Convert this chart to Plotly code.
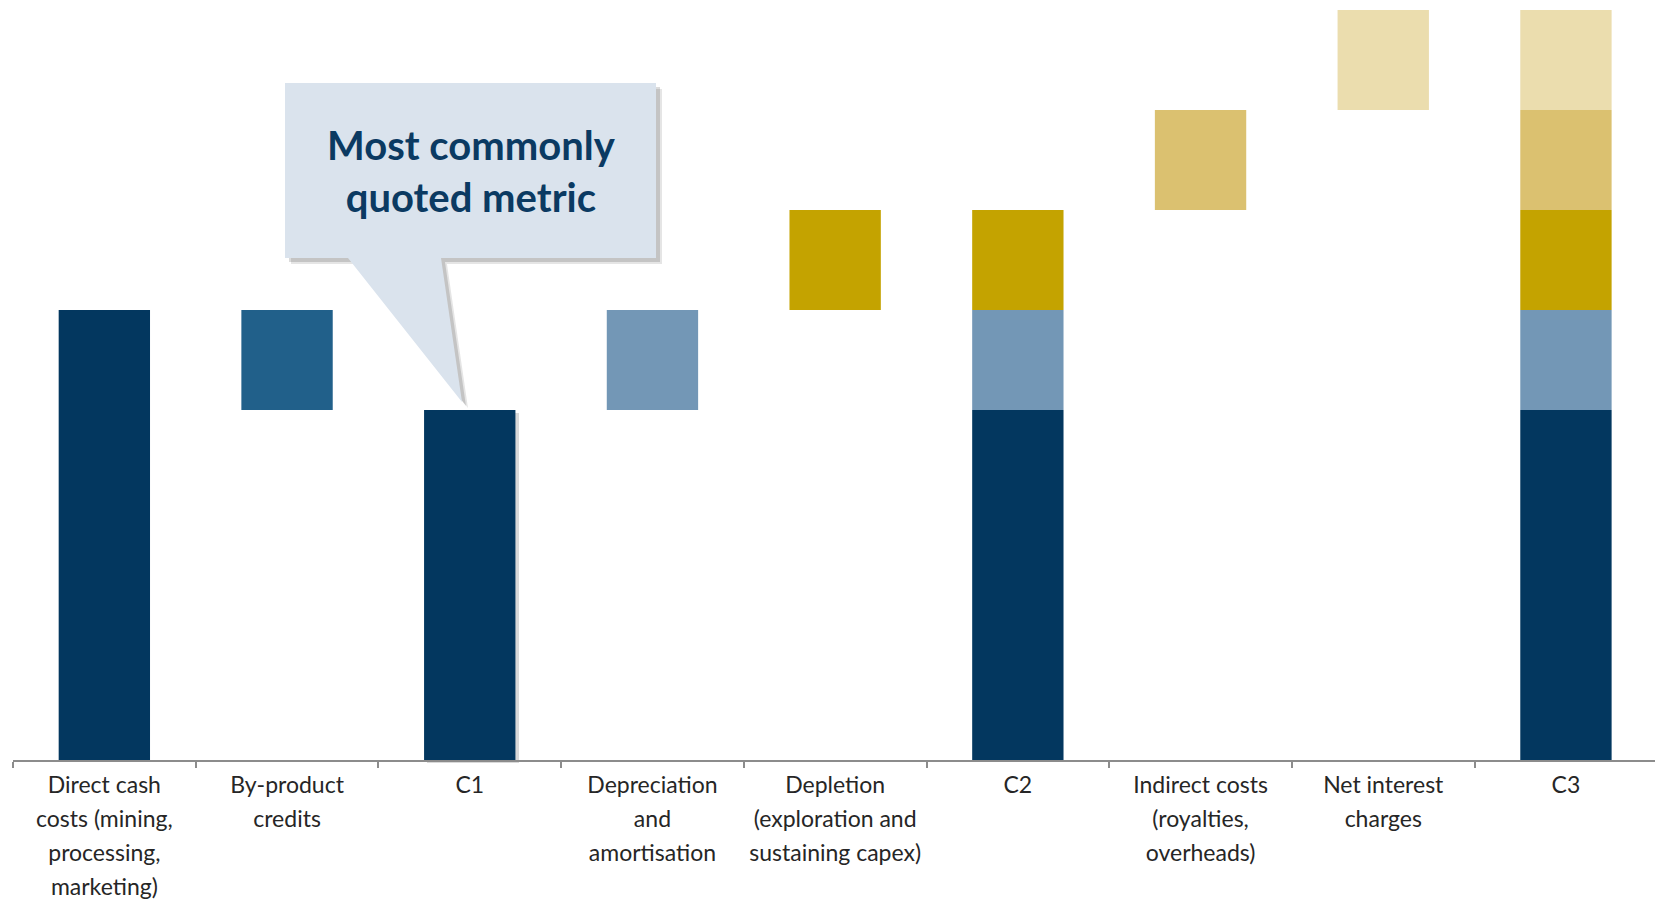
import plotly.graph_objects as go

# ---- data ----
category_lines = [
    ["Direct cash", "costs (mining,", "processing,", "marketing)"],
    ["By-product", "credits"],
    ["C1"],
    ["Depreciation", "and", "amortisation"],
    ["Depletion", "(exploration and", "sustaining capex)"],
    ["C2"],
    ["Indirect costs", "(royalties,", "overheads)"],
    ["Net interest", "charges"],
    ["C3"],
]
direct_cash = 4.5
byproduct_credits = -1.0
depreciation = 1.0
depletion = 1.0
indirect_costs = 1.0
net_interest = 1.0

categories = ["<br>".join(f'<span style="font-size:23px">{s}</span>' for s in lines)
              for lines in category_lines]

c1 = direct_cash + byproduct_credits
c2 = c1 + depreciation + depletion
c3 = c2 + indirect_costs + net_interest

col_navy = "#03375F"
col_byprod = "#21608A"
col_da = "#7397B6"
col_depl = "#C4A300"
col_ind = "#DBC170"
col_int = "#EBDDAE"

W, H = 1655, 900
ML, MR, MT, MB = 13, 0, 0, 140
PW = W - ML - MR
PH = H - MT - MB

def px(x):
    return (x - ML) / PW

def py(y):
    return (H - MB - y) / PH

fig = go.Figure()

def add(xs, base, ys, color):
    fig.add_trace(go.Bar(
        x=[categories[i] for i in xs], y=ys, base=base,
        marker=dict(color=color, line=dict(width=0)),
        width=0.5, showlegend=False, hoverinfo="skip",
    ))

add([0, 2, 5, 8], [0, 0, 0, 0], [direct_cash, c1, c1, c1], col_navy)
add([1], [c1], [-byproduct_credits], col_byprod)
add([3, 5, 8], [c1] * 3, [depreciation] * 3, col_da)
add([4, 5, 8], [c1 + depreciation] * 3, [depletion] * 3, col_depl)
add([6, 8], [c2] * 2, [indirect_costs] * 2, col_ind)
add([7, 8], [c2 + indirect_costs] * 2, [net_interest] * 2, col_int)

# callout with shadow
pts = [(285, 83), (656, 83), (656, 258), (441, 258), (462, 402), (348, 258), (285, 258)]

def path(points, dx=0, dy=0):
    s = ""
    for i, (a, b) in enumerate(points):
        s += ("M" if i == 0 else "L") + f"{px(a + dx):.5f},{py(b + dy):.5f} "
    return s + "Z"

shapes = [
    dict(type="path", xref="paper", yref="paper", path=path(pts, 6, 6),
         fillcolor="rgba(0,0,0,0.10)", line=dict(width=0), layer="above"),
    dict(type="path", xref="paper", yref="paper", path=path(pts, 4, 4),
         fillcolor="rgba(0,0,0,0.14)", line=dict(width=0), layer="above"),
    dict(type="path", xref="paper", yref="paper", path=path(pts),
         fillcolor="#DAE3ED", line=dict(width=0), layer="above"),
    # C1 bar shadow
    dict(type="rect", xref="paper", yref="paper",
         x0=px(427), x1=px(519), y0=py(763), y1=py(413),
         fillcolor="rgba(0,0,0,0.15)", line=dict(width=0), layer="below"),
]

fig.update_layout(
    width=W, height=H,
    margin=dict(l=ML, r=MR, t=MT, b=MB),
    paper_bgcolor="white", plot_bgcolor="white",
    barmode="overlay",
    shapes=shapes,
    annotations=[dict(
        text="<b>Most commonly<br>quoted metric</b>",
        xref="paper", yref="paper", x=px(471), y=py(171),
        xanchor="center", yanchor="middle", showarrow=False,
        font=dict(family="Lato", size=40, color="#0B3A62"),
    )],
    xaxis=dict(
        type="category", categoryorder="array", categoryarray=categories,
        range=[-0.5, -0.5 + PW / 182.7],
        showline=True, linecolor="#8C8C8C", linewidth=2,
        ticks="outside", tickson="boundaries", ticklen=6, tickwidth=2,
        tickcolor="#8C8C8C",
        tickfont=dict(family="Lato", size=26, color="#262626"),
        showgrid=False, zeroline=False, fixedrange=True,
    ),
    yaxis=dict(range=[0, 7.6], visible=False, showgrid=False, zeroline=False),
)

fig.write_html("out.html")
